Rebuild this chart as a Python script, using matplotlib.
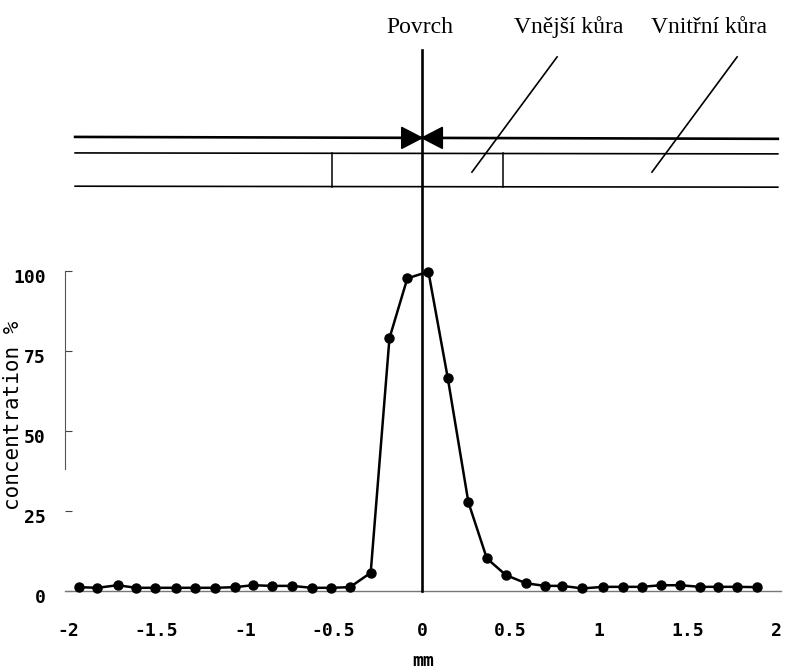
import matplotlib
matplotlib.use("Agg")
import matplotlib.pyplot as plt
import matplotlib.transforms as mtransforms

# concentration profile across the surface (mm, %)
pos_mm = [-1.94, -1.834, -1.72, -1.614, -1.508, -1.39, -1.284, -1.168, -1.058, -0.956,
          -0.846, -0.736, -0.623, -0.514, -0.407, -0.29, -0.184, -0.083, 0.036, 0.145,
          0.262, 0.366, 0.473, 0.588, 0.695, 0.793, 0.906, 1.025, 1.134, 1.24,
          1.35, 1.46, 1.57, 1.67, 1.78, 1.89]
conc = [1.2, 1.0, 1.8, 1.0, 1.0, 1.0, 1.0, 1.0, 1.2, 1.8,
        1.6, 1.6, 1.0, 1.0, 1.2, 5.7, 79.0, 97.7, 99.8, 66.7,
        27.7, 10.2, 5.0, 2.4, 1.6, 1.6, 0.8, 1.3, 1.3, 1.3,
        1.8, 1.8, 1.3, 1.3, 1.3, 1.2]

xticks = [-2, -1.5, -1, -0.5, 0, 0.5, 1, 1.5, 2]
xtick_labels = ["-2", "-1.5", "-1", "-0.5", "0", "0.5", "1", "1.5", "2"]
yticks = [0, 25, 50, 75, 100]

# schematic layers on top
layer_names = ["Povrch", "Vnější kůra", "Vnitřní kůra"]
layer_text_x = [-0.01, 0.83, 1.62]
outer_crust = [-0.508, 0.458]

mono = "DejaVu Sans Mono"
serif = "Liberation Serif"

fig = plt.figure(figsize=(7.85, 6.7), dpi=100)
ax = fig.add_axes([65 / 785, 79 / 670, 716 / 785, 320 / 670])
ax.set_xlim(-2.017, 2.028)
ax.set_ylim(0, 100)

# curve
ax.plot(pos_mm, conc, color="black", lw=1.8, marker="o", ms=6.5, clip_on=False, zorder=3)

# surface line
ax.plot([0, 0], [0, 169], color="black", lw=1.9, clip_on=False, zorder=4)

# layer diagram
ax.plot([-1.96, 2.01], [141.9, 141.3], color="black", lw=1.9, clip_on=False)
ax.plot([-1.96, 2.01], [136.9, 136.6], color="black", lw=1.2, clip_on=False)
ax.plot([-1.96, 2.01], [126.5, 126.2], color="black", lw=1.2, clip_on=False)
for xd in outer_crust:
    ax.plot([xd, xd], [126.4, 136.8], color="black", lw=1.1, clip_on=False)
ax.fill([-0.115, 0, -0.115], [138.3, 141.6, 144.9], color="black", clip_on=False, zorder=5)
ax.fill([0.115, 0, 0.115], [138.3, 141.6, 144.9], color="black", clip_on=False, zorder=5)
ax.plot([0.763, 0.282], [166.9, 130.9], color="black", lw=1.2, clip_on=False)
ax.plot([1.780, 1.299], [166.9, 130.9], color="black", lw=1.2, clip_on=False)

for name, xt in zip(layer_names, layer_text_x):
    ax.text(xt, 174.4, name, ha="center", va="baseline", fontsize=17,
            family=serif, clip_on=False)

# axes styling
for s in ["top", "right"]:
    ax.spines[s].set_visible(False)
ax.spines["left"].set_bounds(38, 100)
ax.spines["left"].set_color("#555555")
ax.spines["bottom"].set_color("#777777")
ax.spines["bottom"].set_linewidth(1.0)

ax.set_xticks(xticks)
ax.set_xticklabels(xtick_labels, family=mono, fontsize=13, fontweight="bold")
ax.tick_params(axis="x", length=0, pad=22)
ax.set_yticks(yticks)
ax.set_yticklabels([str(v) for v in yticks], family=mono, fontsize=13, fontweight="bold")
ax.tick_params(axis="y", direction="in", length=5, color="#444444", pad=14)
off = mtransforms.ScaledTranslation(0, -0.05, fig.dpi_scale_trans)
for lab in ax.get_yticklabels():
    lab.set_transform(lab.get_transform() + off)

ax.set_xlabel("mm", family=mono, fontsize=13, fontweight="bold", labelpad=9)
ax.set_ylabel("concentration %", family=mono, fontsize=15)
ax.yaxis.set_label_coords(-0.058, 0.55)

fig.savefig("out.png", dpi=100)
